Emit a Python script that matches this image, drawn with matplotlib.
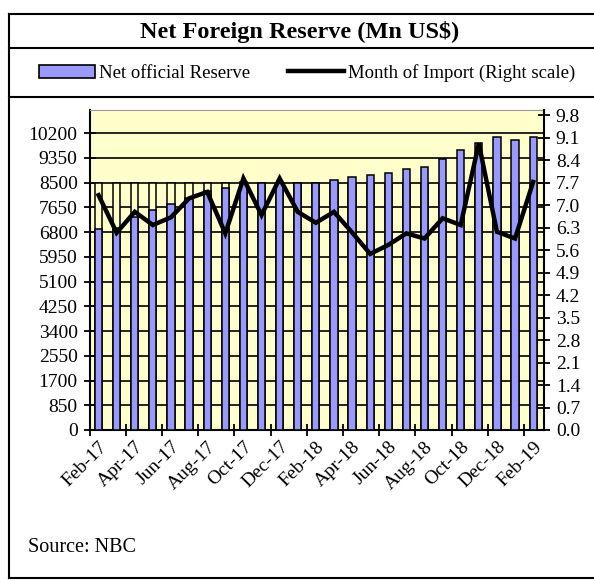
import matplotlib
matplotlib.use("Agg")
import matplotlib.pyplot as plt
import numpy as np
from matplotlib.lines import Line2D
from matplotlib.patches import Patch

plt.rcParams['font.family'] = ['Liberation Serif', 'DejaVu Serif']

months = ['Feb-17', 'Mar-17', 'Apr-17', 'May-17', 'Jun-17', 'Jul-17', 'Aug-17',
          'Sep-17', 'Oct-17', 'Nov-17', 'Dec-17', 'Jan-18', 'Feb-18', 'Mar-18',
          'Apr-18', 'May-18', 'Jun-18', 'Jul-18', 'Aug-18', 'Sep-18', 'Oct-18',
          'Nov-18', 'Dec-18', 'Jan-19', 'Feb-19']
reserve = [6900, 6950, 7310, 7560, 7770, 7970, 8230, 8310, 8520, 8480, 8500,
           8480, 8480, 8600, 8690, 8770, 8850, 8960, 9050, 9310, 9610, 9850,
           10080, 9970, 10080]
import_months = [7.31, 6.14, 6.79, 6.38, 6.62, 7.21, 7.41, 6.12, 7.83, 6.69,
                 7.83, 6.79, 6.45, 6.79, 6.15, 5.48, 5.76, 6.12, 5.96, 6.59,
                 6.38, 8.92, 6.17, 5.96, 7.72]
# hidden series behind the bars (only its outline shows)
hidden = [8500] * 25

left_ticks = np.arange(0, 10201, 850)
right_ticks = np.round(np.arange(0, 9.81, 0.7), 1)

W, H = 594, 581
fig = plt.figure(figsize=(W / 100, H / 100), dpi=100)

def px(x0, y0, x1, y1):
    return [x0 / W, 1 - y1 / H, (x1 - x0) / W, (y1 - y0) / H]

ax = fig.add_axes(px(89.5, 110, 544, 430))
ax.set_facecolor('#FFFFCC')
x = np.arange(len(months))

for v in left_ticks[1:]:
    ax.axhline(v, color='black', lw=1.2, zorder=1)

ax.bar(x, hidden, width=0.4, color='#FFFFCC', edgecolor='black', lw=1.1, zorder=2)
ax.bar(x, reserve, width=0.4, color='#9999FF', edgecolor='black', lw=1.1, zorder=3)

ax.set_xlim(-0.5, 24.6)
ax.set_ylim(0, 11000)
ax.set_yticks(left_ticks)
ax.set_yticklabels([str(v) for v in left_ticks], fontsize=14)
ax.tick_params(axis='y', direction='inout', length=9, width=1.3, pad=4)

ax.set_xticks(x[::2])
ax.set_xticklabels(months[::2], rotation=45, ha='right', va='top',
                   rotation_mode='anchor', fontsize=14)
ax.tick_params(axis='x', which='major', length=0, pad=6)
ax.set_xticks(np.arange(-0.5, 25, 2), minor=True)
ax.tick_params(axis='x', which='minor', direction='inout', length=8, width=1.3)

for s in ['left', 'bottom']:
    ax.spines[s].set_color('black')
    ax.spines[s].set_linewidth(1.5)
ax.spines['top'].set_color('#999999')
ax.spines['right'].set_visible(False)

ax2 = ax.twinx()
ax2.plot(x, import_months, color='black', lw=3.2, zorder=5, solid_joinstyle='miter')
ax2.set_ylim(0, 9.96)
ax2.set_yticks(right_ticks)
ax2.set_yticklabels(['%.1f' % v for v in right_ticks], fontsize=14)
ax2.tick_params(axis='y', direction='inout', length=9, width=1.3, pad=4)
ax2.spines['right'].set_linewidth(1.5)
ax2.spines['top'].set_visible(False)
ax2.spines['left'].set_visible(False)
ax2.spines['bottom'].set_visible(False)

# outer box and dividers
def hline(y, x0=9, x1=W):
    fig.add_artist(Line2D([x0 / W, x1 / W], [1 - y / H, 1 - y / H],
                          color='black', lw=1.5))
hline(14)
hline(48)
hline(97)
hline(578)
fig.add_artist(Line2D([9 / W, 9 / W], [1 - 14 / H, 1 - 578 / H], color='black', lw=1.5))

fig.text(300 / W, 1 - 32 / H, 'Net Foreign Reserve (Mn US$)', ha='center',
         va='center', fontsize=17.5, fontweight='bold')

handles = [Patch(facecolor='#9999FF', edgecolor='black', lw=1.2),
           Line2D([], [], color='black', lw=3.2)]
fig.legend(handles, ['Net official Reserve', 'Month of Import (Right scale)'],
           loc='center', bbox_to_anchor=(307 / W, 1 - 73 / H), ncol=2,
           frameon=False, fontsize=13.5, handlelength=3.0, handletextpad=0.2,
           columnspacing=2.0)

fig.text(28 / W, 1 - 548 / H, 'Source: NBC', ha='left', va='center', fontsize=14.5)

fig.savefig('out.png', dpi=100)
